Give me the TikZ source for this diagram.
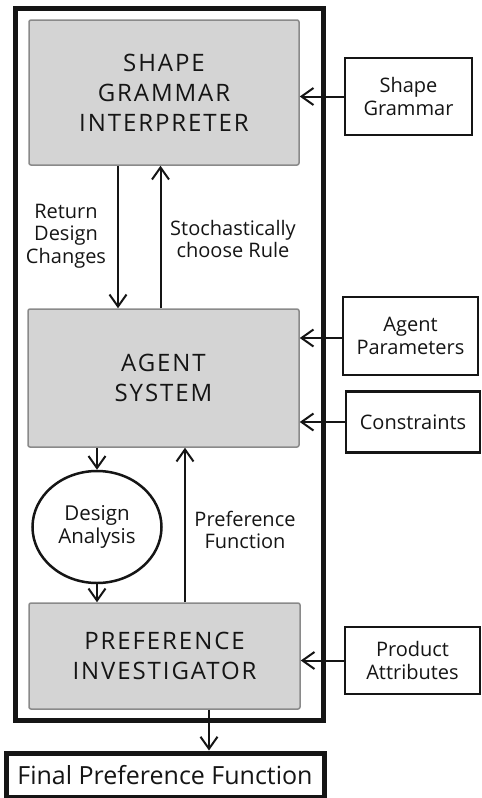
\documentclass[tikz,border=0pt]{standalone}
\usepackage{fontspec}
\setmainfont{Open Sans}
\usetikzlibrary{arrows.meta,shapes.geometric}
\definecolor{boxgray}{HTML}{D4D4D4}
\definecolor{edgegray}{HTML}{8A8A8A}
\definecolor{ink}{HTML}{151515}
\begin{document}
\begin{tikzpicture}[x=1pt,y=-1pt,
  every node/.style={text=ink},
  corebox/.style={draw=edgegray,line width=1.5pt,fill=boxgray,rounded corners=2pt,
    align=center,inner sep=0pt,font=\fontsize{24}{30}\selectfont\addfontfeature{LetterSpace=8}},
  inputbox/.style={draw=ink,line width=2.5pt,fill=white,align=center,inner sep=0pt,
    font=\fontsize{20}{23}\selectfont},
  flowlabel/.style={align=center,inner sep=0pt,font=\fontsize{20}{22.5}\selectfont},
  flow/.style={draw=ink,line width=2pt,-{Straight Barb[length=12pt,width=17pt,line width=2pt]}}
]
\useasboundingbox (0,0) rectangle (482,798);

% outer system frame
\draw[ink,line width=5pt] (15,8) rectangle (323,720);

% core components
\node[corebox,minimum width=270pt,minimum height=145pt] (sgi) at (164,92.5)
  {SHAPE\\GRAMMAR\\INTERPRETER};
\node[corebox,minimum width=271pt,minimum height=138pt] (as) at (163.5,378)
  {AGENT\\SYSTEM};
\node[corebox,minimum width=271pt,minimum height=106pt] (pi) at (164.5,656)
  {PREFERENCE\\INVESTIGATOR};
\node[draw=ink,line width=2.5pt,ellipse,minimum width=129pt,minimum height=112pt,
  inner sep=0pt,align=center,font=\fontsize{20.5}{23}\selectfont] (da) at (97,527)
  {Design\\Analysis};

% external inputs
\node[inputbox,minimum width=127pt,minimum height=77pt] (sg) at (408.5,96.5) {Shape\\Grammar};
\node[inputbox,minimum width=135pt,minimum height=78pt] (ap) at (410.5,336) {Agent\\Parameters};
\node[inputbox,minimum width=134pt,minimum height=61pt] (con) at (413,422) {Constraints};
\node[inputbox,minimum width=135pt,minimum height=67pt] (pa) at (412.5,660.5) {Product\\Attributes};

% result
\node[draw=ink,line width=5pt,fill=white,minimum width=318pt,minimum height=44pt,inner sep=0pt,
  font=\fontsize{25}{28}\selectfont] (fpf) at (165,775) {Final Preference Function};

% flow labels
\node[flowlabel] (lret) at (66,236) {Return\\Design\\Changes};
\node[flowlabel] (lsto) at (233,239) {Stochastically\\choose Rule};
\node[flowlabel] (lpref) at (245,530) {Preference\\Function};

% connectors
\draw[flow] ([xshift=-46pt]sgi.south) -- ([xshift=-46pt]sgi.south |- as.north);
\draw[flow] ([xshift=-3pt]as.north) -- ([xshift=-3pt]as.north |- sgi.south);
\draw[flow] (as.south -| da.north) -- (da.north);
\draw[flow] (da.south) -- (da.south |- pi.north);
\draw[flow] ([xshift=20.5pt]pi.north) -- ([xshift=20.5pt]pi.north |- as.south);
\draw[flow] ([xshift=44.5pt]pi.south) -- ([xshift=44.5pt]pi.south |- fpf.north);
\draw[flow] (sg.west) -- (sg.west -| sgi.east);
\draw[flow] ([yshift=-2pt]ap.west) -- ([yshift=-2pt]ap.west -| as.east);
\draw[flow] (con.west) -- (con.west -| as.east);
\draw[flow] (pa.west) -- (pa.west -| pi.east);
\end{tikzpicture}
\end{document}
